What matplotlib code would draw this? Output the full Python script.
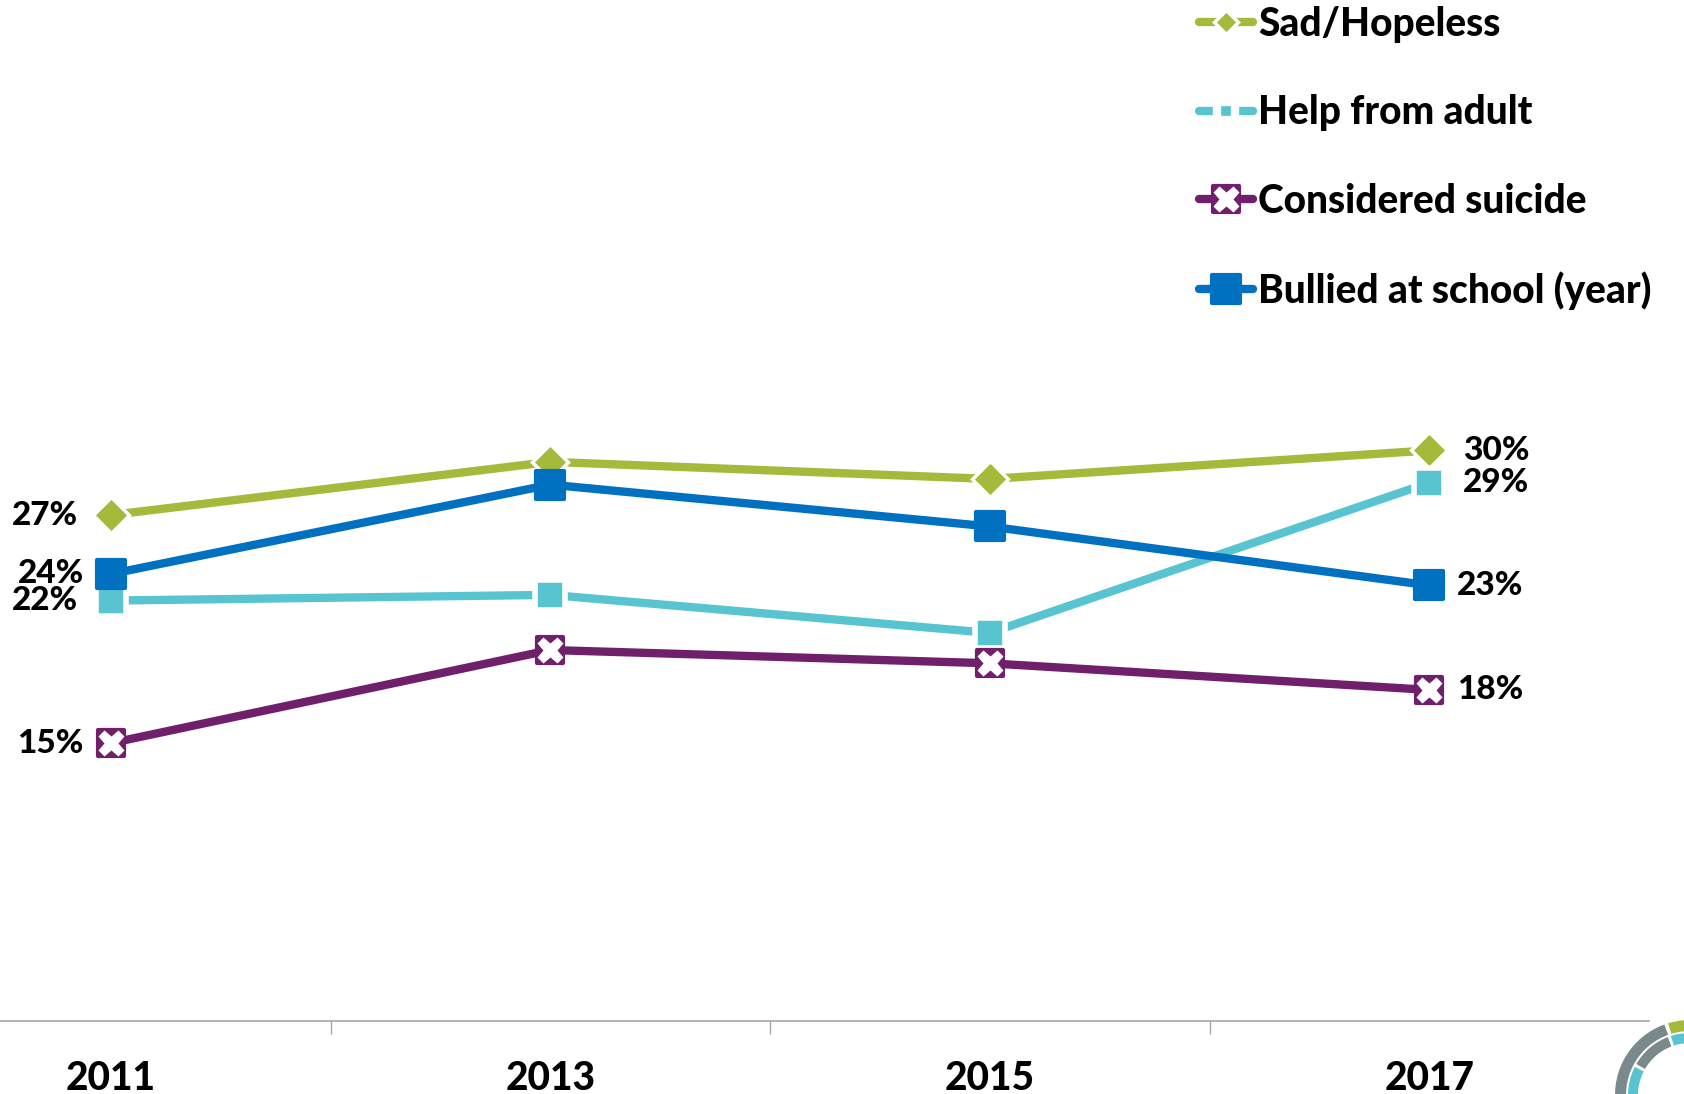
import matplotlib

matplotlib.use("Agg")
import matplotlib.pyplot as plt
from matplotlib.legend_handler import HandlerTuple
from matplotlib.lines import Line2D
from matplotlib.markers import MarkerStyle
from matplotlib.patches import Wedge

years = ["2011", "2013", "2015", "2017"]
sad_hopeless = [26.9, 29.7, 28.8, 30.3]
help_from_adult = [22.4, 22.7, 20.7, 28.6]
considered_suicide = [14.9, 19.8, 19.1, 17.7]
bullied_at_school = [23.8, 28.5, 26.3, 23.2]
series_names = ["Sad/Hopeless", "Help from adult", "Considered suicide", "Bullied at school (year)"]

GREEN = "#A5B93B"
CYAN = "#57C4CF"
PURPLE = "#70206B"
BLUE = "#0070C0"
GRAY = "#A6A6A6"
WEIGHT = 900

plt.rcParams["font.family"] = ["Lato", "DejaVu Sans"]
plt.rcParams["font.weight"] = WEIGHT

W, H = 1684, 1094
fig = plt.figure(figsize=(W / 100, H / 100), dpi=100)
ax = fig.add_axes([0, 73 / H, 1649 / W, 1021 / H])
x = list(range(len(years)))


def rounded(marker):
    return MarkerStyle(marker, joinstyle="round")


lw = 6
ax.plot(x, sad_hopeless, color=GREEN, lw=lw, marker="D", ms=18,
        mfc=GREEN, mec="white", mew=2.5, zorder=3)
ax.plot(x, help_from_adult, color=CYAN, lw=lw, marker="s", ms=21,
        mfc=CYAN, mec="white", mew=4, zorder=3)
ax.plot(x, considered_suicide, color=PURPLE, lw=lw, marker=rounded("s"), ms=19,
        mfc=PURPLE, mec=PURPLE, mew=3, zorder=4)
ax.plot(x, considered_suicide, ls="none", marker="X", ms=19,
        mfc="white", mec="none", zorder=5)
ax.plot(x, bullied_at_school, color=BLUE, lw=lw, marker=rounded("s"), ms=20,
        mfc=BLUE, mec=BLUE, mew=3, zorder=6)

# data labels at first and last point
for values, off in [(sad_hopeless, 33), (help_from_adult, 33),
                    (considered_suicide, 27), (bullied_at_school, 27)]:
    ax.annotate(f"{round(values[0])}%", xy=(x[0], values[0]), xytext=(-off, 0),
                textcoords="offset pixels", ha="right", va="center",
                fontsize=24, fontweight=WEIGHT, zorder=7)
    ax.annotate(f"{round(values[-1])}%", xy=(x[-1], values[-1]), xytext=(off + 1, 0),
                textcoords="offset pixels", ha="left", va="center",
                fontsize=24, fontweight=WEIGHT, zorder=7)

ax.set_xlim(-0.252, 3.5)
ax.set_ylim(0.28, 54.0)
ax.set_xticks(x)
ax.set_xticklabels(years, fontsize=28, fontweight=WEIGHT)
ax.set_xticks([0.5, 1.5, 2.5], minor=True)
ax.tick_params(axis="x", which="major", length=0, pad=28)
ax.tick_params(axis="x", which="minor", length=9.5, width=1, color=GRAY, direction="out")
ax.set_yticks([])
for side in ["top", "left", "right"]:
    ax.spines[side].set_visible(False)
ax.spines["bottom"].set_color(GRAY)
ax.spines["bottom"].set_linewidth(1.2)
ax.patch.set_alpha(0)

handles = [
    Line2D([], [], color=GREEN, lw=lw, solid_capstyle="round", marker="D", ms=12,
           mfc=GREEN, mec="white", mew=2.5),
    Line2D([], [], color=CYAN, lw=lw, solid_capstyle="round", marker="s", ms=13,
           mfc=CYAN, mec="white", mew=6),
    (Line2D([], [], color=PURPLE, lw=lw, solid_capstyle="round", marker=rounded("s"), ms=19,
            mfc=PURPLE, mec=PURPLE, mew=3),
     Line2D([], [], ls="none", marker="X", ms=19, mfc="white", mec="none")),
    Line2D([], [], color=BLUE, lw=lw, solid_capstyle="round", marker=rounded("s"), ms=20,
           mfc=BLUE, mec=BLUE, mew=3),
]
fig.legend(handles, series_names, loc="upper left",
           bbox_to_anchor=(1199 / W, 1 - 6 / H), frameon=False,
           prop={"size": 28, "weight": WEIGHT}, handlelength=1.4, handletextpad=0.12,
           labelspacing=1.32, borderpad=0, borderaxespad=0,
           handler_map={tuple: HandlerTuple(ndivide=1, pad=0)})

# corner logo rings
logo = fig.add_axes([0, 0, 1, 1], zorder=10)
logo.set_xlim(0, W)
logo.set_ylim(0, H)
logo.axis("off")
cx, cy = 1690, -1
for r, width, t1, t2, col in [
    (75, 11, 110, 265, "#7A8A8C"),
    (75, 11, 60, 107, GREEN),
    (62, 10, 30, 108, CYAN),
    (62, 10, 111, 150, "#7A8A8C"),
    (62, 10, 153, 265, CYAN),
]:
    logo.add_patch(Wedge((cx, cy), r, t1, t2, width=width, color=col, lw=0))

fig.savefig("out.png", dpi=100)
plt.close(fig)
